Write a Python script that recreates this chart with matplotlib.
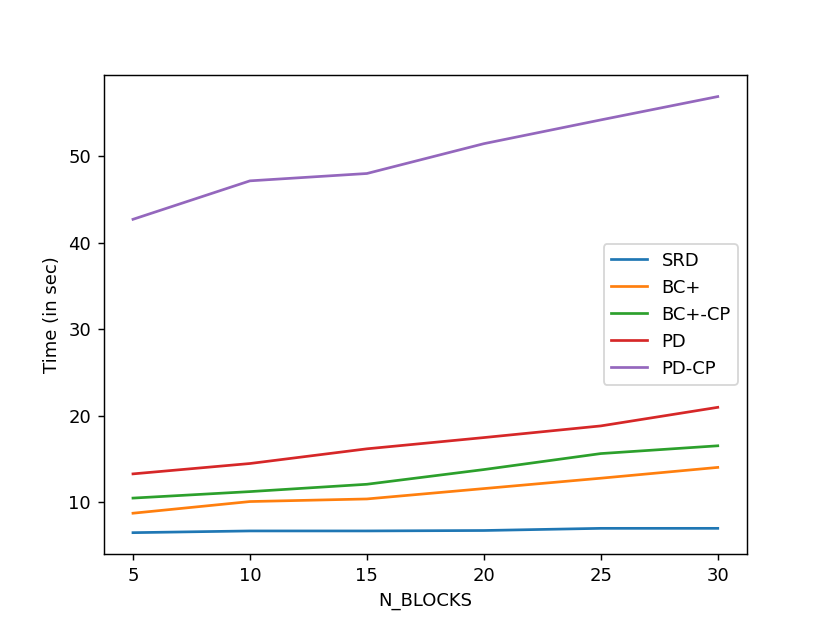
import matplotlib
matplotlib.use("Agg")
import matplotlib.pyplot as plt

n_blocks = [5, 10, 15, 20, 25, 30]
srd = [6.45, 6.65, 6.65, 6.7, 6.95, 6.95]
bc_plus = [8.7, 10.05, 10.35, 11.55, 12.75, 14.0]
bc_plus_cp = [10.45, 11.2, 12.05, 13.75, 15.6, 16.5]
pd_ = [13.25, 14.45, 16.15, 17.45, 18.8, 20.95]
pd_cp = [42.7, 47.15, 48.0, 51.45, 54.2, 56.9]

fig = plt.figure(figsize=(830 / 130, 623 / 130), dpi=130)
plt.plot(n_blocks, srd, label="SRD")
plt.plot(n_blocks, bc_plus, label="BC+")
plt.plot(n_blocks, bc_plus_cp, label="BC+-CP")
plt.plot(n_blocks, pd_, label="PD")
plt.plot(n_blocks, pd_cp, label="PD-CP")
plt.xlabel("N_BLOCKS")
plt.ylabel("Time (in sec)")
plt.legend()
plt.savefig("out.png", dpi=130)
